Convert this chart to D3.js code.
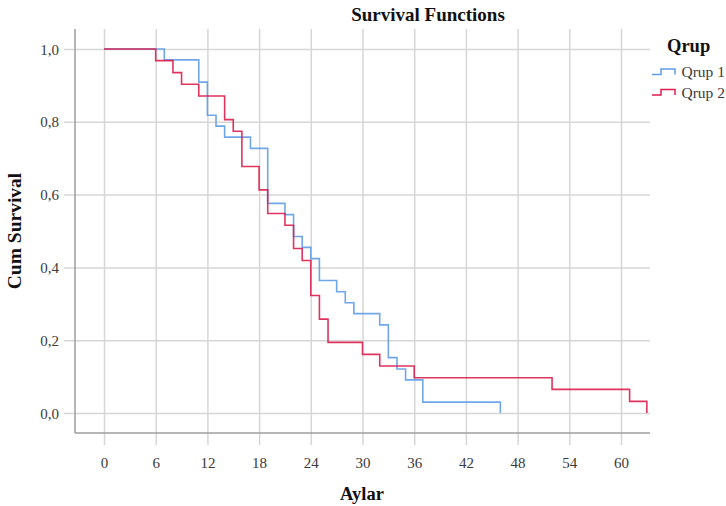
<!DOCTYPE html>
<html><head><meta charset="utf-8">
<script src="https://cdn.jsdelivr.net/npm/d3@7"></script>
<style>
html,body{margin:0;padding:0;background:#fff;}
svg{display:block;font-family:"Liberation Serif","Times New Roman",serif;}
</style></head>
<body>
<svg id="chart" width="726" height="506"></svg>
<script>
// Data (Kaplan–Meier steps)
const groupNames = ["Qrup 1", "Qrup 2"];
const groupColors = ["#5f9de6", "#dc1e4d"];
const q1Times = [0, 7, 11, 12, 13, 14, 17, 19, 21, 22, 23, 24, 25, 27, 28, 29, 32, 33, 34, 35, 37, 46];
const q1Surv  = [1, 0.970, 0.909, 0.818, 0.788, 0.758, 0.727, 0.576, 0.545, 0.485, 0.455, 0.424, 0.364, 0.333, 0.303, 0.273, 0.242, 0.152, 0.121, 0.091, 0.030, 0];
const q2Times = [0, 6, 8, 9, 11, 14, 15, 16, 18, 19, 21, 22, 23, 24, 25, 26, 30, 32, 36, 52, 61, 63];
const q2Surv  = [1, 0.968, 0.935, 0.903, 0.871, 0.806, 0.774, 0.677, 0.613, 0.548, 0.516, 0.452, 0.419, 0.323, 0.258, 0.194, 0.161, 0.129, 0.097, 0.065, 0.032, 0];
const xTicks = [0, 6, 12, 18, 24, 30, 36, 42, 48, 54, 60];
const yTicks = [0, 0.2, 0.4, 0.6, 0.8, 1.0];
const yTickLabels = ["0,0", "0,2", "0,4", "0,6", "0,8", "1,0"];

const series = [
  {name: groupNames[0], color: groupColors[0], pts: q1Times.map((t, i) => [t, q1Surv[i]])},
  {name: groupNames[1], color: groupColors[1], pts: q2Times.map((t, i) => [t, q2Surv[i]])}
];

const svg = d3.select("#chart");
const plot = {left: 75, right: 650, top: 29, bottom: 433};
const x = d3.scaleLinear().domain([0, 60]).range([104, 621]);
const y = d3.scaleLinear().domain([0, 1]).range([413, 49]);

const gridColor = "#d6d6d6";
const axisColor = "#9e9e9e";

// vertical gridlines + ticks
const xAxis = d3.axisBottom(x).tickValues(xTicks).tickSize(plot.bottom - plot.top + 12).tickFormat(d => d);
const gx = svg.append("g").attr("transform", `translate(0,${plot.top})`).call(xAxis);
gx.select(".domain").remove();
gx.selectAll(".tick line").attr("stroke", gridColor).attr("stroke-width", 1.5);
gx.selectAll(".tick text").attr("y", plot.bottom - plot.top + 35).attr("dy", 0)
  .attr("fill", "#3a3a3a").attr("font-size", 15).attr("font-family", "Liberation Serif, serif");

// horizontal gridlines + ticks
const yAxis = d3.axisLeft(y).tickValues(yTicks).tickSize(plot.right - 64)
  .tickFormat((d, i) => yTickLabels[i]);
const gy = svg.append("g").attr("transform", `translate(${plot.right},0)`).call(yAxis);
gy.select(".domain").remove();
gy.selectAll(".tick line").attr("stroke", gridColor).attr("stroke-width", 1.5);
gy.selectAll(".tick text").attr("x", -(plot.right - 59)).attr("dy", "0.34em")
  .attr("fill", "#3a3a3a").attr("font-size", 15).attr("font-family", "Liberation Serif, serif");

// axis lines
svg.append("line").attr("x1", plot.left).attr("x2", plot.left).attr("y1", plot.top).attr("y2", plot.bottom)
  .attr("stroke", axisColor).attr("stroke-width", 1.5);
svg.append("line").attr("x1", plot.left).attr("x2", plot.right).attr("y1", plot.bottom).attr("y2", plot.bottom)
  .attr("stroke", axisColor).attr("stroke-width", 1.5);

// survival step lines
const line = d3.line().x(d => x(d[0])).y(d => y(d[1])).curve(d3.curveStepAfter);
series.forEach(s => {
  svg.append("path").datum(s.pts).attr("d", line).attr("fill", "none")
    .attr("stroke", s.color).attr("stroke-width", 1.6).attr("stroke-opacity", 0.9);
});

// title and axis labels
svg.append("text").attr("x", 428).attr("y", 20.5).attr("text-anchor", "middle")
  .attr("font-weight", "bold").attr("font-size", 19).attr("fill", "#111").text("Survival Functions");
svg.append("text").attr("x", 362).attr("y", 500).attr("text-anchor", "middle")
  .attr("font-weight", "bold").attr("font-size", 18.5).attr("fill", "#111").text("Aylar");
svg.append("text").attr("transform", "translate(21,231) rotate(-90)").attr("text-anchor", "middle")
  .attr("font-weight", "bold").attr("font-size", 19.5).attr("fill", "#111").text("Cum Survival");

// legend
svg.append("text").attr("x", 667).attr("y", 52).attr("font-weight", "bold").attr("font-size", 18.5)
  .attr("fill", "#111").text("Qrup");
const leg = svg.selectAll(".leg").data(series).enter().append("g").attr("class", "leg")
  .attr("transform", (d, i) => `translate(0,${i * 20.5})`);
leg.append("path").attr("d", "M652,74.5 H661 V69 H675 V74.5").attr("fill", "none")
  .attr("stroke", d => d.color).attr("stroke-width", 1.5);
leg.append("text").attr("x", 681.5).attr("y", 77).attr("font-size", 15.5).attr("fill", "#3a3a3a")
  .text(d => d.name);
</script>
</body></html>
